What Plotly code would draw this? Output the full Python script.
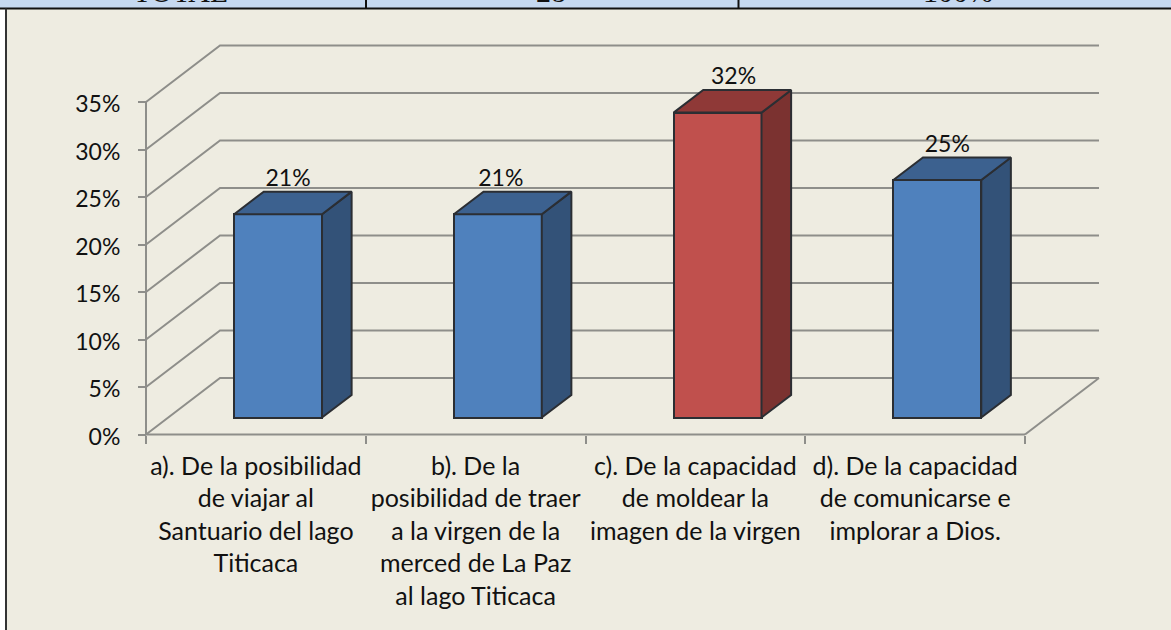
import plotly.graph_objects as go

# --------------------------------------------
# Data
# --------------------------------------------

categories = [
    "a). De la posibilidad<br>de viajar al<br>Santuario del lago<br>Titicaca",
    "b). De la<br>posibilidad de traer<br>a la virgen de la<br>merced de La Paz<br>al lago Titicaca",
    "c). De la capacidad<br>de moldear la<br>imagen de la virgen",
    "d). De la capacidad<br>de comunicarse e<br>implorar a Dios.",
]
values = [21.4, 21.4, 32.1, 25.0]
value_labels = ["21%", "21%", "32%", "25%"]
y_ticks = [0, 5, 10, 15, 20, 25, 30, 35]
y_tick_labels = ["0%", "5%", "10%", "15%", "20%", "25%", "30%", "35%"]
bar_colors = ["#4F81BD", "#4F81BD", "#C0504D", "#4F81BD"]
side_colors = ["#335278", "#335278", "#7B3230", "#335278"]
top_colors = ["#3C618F", "#3C618F", "#8F3937", "#3C618F"]
label_nudge = [0, -7, 6, 0]
table_cells = ["TOTAL", "28", "100%"]

# --------------------------------------------
# Look of the chart
# --------------------------------------------

WIDTH, HEIGHT = 1171, 630
LEFT, RIGHT, TOP, BOTTOM = 146, 1025, 102, 434.5
BG = "#EEECE1"
GRID = "#8E8E8A"
EDGE = "#2B2E33"
FONT = "Lato"
INK = "#111111"

# depth of the fake 3D floor, in axis units
PX_PER_CAT = (RIGHT - LEFT) / 4
PX_PER_PCT = (BOTTOM - TOP) / 35
DEPTH_X = 74 / PX_PER_CAT
DEPTH_Y = 56.5 / PX_PER_PCT
BAR_WIDTH = 0.4
NEAR, FAR = 0.3, 0.7  # where bars sit between front and back wall

# the plot area is larger than the axes so the walls are not clipped
PLOT_X0, PLOT_X1 = 140, WIDTH
PLOT_Y0, PLOT_Y1 = 20, 441
X_RANGE = [(PLOT_X0 - LEFT) / PX_PER_CAT, (PLOT_X1 - LEFT) / PX_PER_CAT]
Y_RANGE = [(BOTTOM - PLOT_Y1) / PX_PER_PCT, (BOTTOM - PLOT_Y0) / PX_PER_PCT]

fig = go.Figure()


def wall_line(xs, ys):
    fig.add_trace(go.Scatter(
        x=xs, y=ys, mode="lines",
        line=dict(color=GRID, width=2),
        hoverinfo="skip", showlegend=False,
    ))


def polygon(xs, ys, fill):
    fig.add_trace(go.Scatter(
        x=xs, y=ys, xaxis="x2", mode="lines",
        fill="toself", fillcolor=fill,
        line=dict(color=EDGE, width=2),
        hoverinfo="skip", showlegend=False,
    ))


# Gridlines: slanted part on the side wall, flat part on the back wall
for tick in y_ticks:
    wall_line([0, DEPTH_X, 4 + DEPTH_X], [tick, tick + DEPTH_Y, tick + DEPTH_Y])

# Axis lines and right edge of the floor
wall_line([0, 0], [0, 35])
wall_line([0, 4], [0, 0])
wall_line([4, 4 + DEPTH_X], [0, DEPTH_Y])

# Bars live on an overlaid x axis so they stay above the gridlines
centers = [i + 0.5 + NEAR * DEPTH_X for i in range(len(values))]
base = NEAR * DEPTH_Y

fig.add_trace(go.Bar(
    x=centers, y=values, base=base, width=BAR_WIDTH, xaxis="x2",
    marker=dict(color=bar_colors, line=dict(color=EDGE, width=2)),
    hoverinfo="skip", showlegend=False,
))

dx = (FAR - NEAR) * DEPTH_X
dy = (FAR - NEAR) * DEPTH_Y
for c, v, side, top in zip(centers, values, side_colors, top_colors):
    x0, x1 = c - BAR_WIDTH / 2, c + BAR_WIDTH / 2
    y0, y1 = base, base + v
    polygon([x1, x1 + dx, x1 + dx, x1, x1], [y0, y0 + dy, y1 + dy, y1, y0], side)
    polygon([x0, x0 + dx, x1 + dx, x1, x0], [y1, y1 + dy, y1 + dy, y1, y1], top)

# Value labels above the bars
fig.add_trace(go.Scatter(
    x=[c + (10 + n) / PX_PER_CAT for c, n in zip(centers, label_nudge)],
    y=[base + v + dy for v in values],
    text=value_labels, xaxis="x2",
    mode="text", textposition="top center",
    textfont=dict(family=FONT, size=23, color=INK),
    hoverinfo="skip", showlegend=False,
))

# --------------------------------------------
# Layout
# --------------------------------------------

fig.update_layout(
    width=WIDTH, height=HEIGHT,
    autosize=False,
    margin=dict(l=0, r=0, t=0, b=0, pad=0),
    paper_bgcolor="white",
    plot_bgcolor="rgba(0,0,0,0)",
    font=dict(family=FONT, size=23, color=INK),
    showlegend=False,
    bargap=0,
    xaxis=dict(
        automargin=False,
        domain=[PLOT_X0 / WIDTH, PLOT_X1 / WIDTH],
        range=X_RANGE,
        anchor="free",
        position=1 - BOTTOM / HEIGHT,
        tickmode="array",
        tickvals=[0.5, 1.5, 2.5, 3.5],
        ticktext=categories,
        ticks="outside", ticklen=9, tickcolor="rgba(0,0,0,0)",
        tickangle=0,
        showgrid=False,
        zeroline=False,
        showline=False,
        minor=dict(
            tickmode="array", tickvals=[0, 1, 2, 3, 4],
            ticks="outside", ticklen=8, tickwidth=2, tickcolor=GRID,
            showgrid=False,
        ),
        tickfont=dict(family=FONT, size=25, color=INK),
    ),
    xaxis2=dict(
        automargin=False,
        domain=[PLOT_X0 / WIDTH, PLOT_X1 / WIDTH],
        range=X_RANGE,
        overlaying="x",
        visible=False,
    ),
    yaxis=dict(
        automargin=False,
        domain=[1 - PLOT_Y1 / HEIGHT, 1 - PLOT_Y0 / HEIGHT],
        range=Y_RANGE,
        anchor="free",
        position=LEFT / WIDTH,
        tickmode="array",
        tickvals=y_ticks,
        ticktext=y_tick_labels,
        ticks="outside", ticklen=8, tickwidth=2, tickcolor=GRID,
        ticklabelstandoff=13,
        ticklabelshift=2,
        showgrid=False,
        zeroline=False,
        showline=False,
        tickfont=dict(family=FONT, size=23, color=INK),
    ),
    shapes=[
        # chart background and the table row cut off at the top
        dict(type="rect", xref="paper", yref="paper", layer="below",
             x0=7 / WIDTH, x1=1, y0=0, y1=1 - 9 / HEIGHT,
             fillcolor=BG, line_width=0),
        dict(type="rect", xref="paper", yref="paper", layer="below",
             x0=0, x1=1, y0=1 - 8 / HEIGHT, y1=1,
             fillcolor="#C6D9F1", line_width=0),
        dict(type="line", xref="paper", yref="paper",
             x0=0, x1=1, y0=1 - 8.5 / HEIGHT, y1=1 - 8.5 / HEIGHT,
             line=dict(color=INK, width=2)),
        dict(type="line", xref="paper", yref="paper",
             x0=6 / WIDTH, x1=6 / WIDTH, y0=0, y1=1 - 8.5 / HEIGHT,
             line=dict(color="#333333", width=2)),
        dict(type="line", xref="paper", yref="paper",
             x0=366 / WIDTH, x1=366 / WIDTH, y0=1 - 8.5 / HEIGHT, y1=1,
             line=dict(color=INK, width=2)),
        dict(type="line", xref="paper", yref="paper",
             x0=738.5 / WIDTH, x1=738.5 / WIDTH, y0=1 - 8.5 / HEIGHT, y1=1,
             line=dict(color=INK, width=2)),
    ],
    annotations=[
        dict(text=cell, xref="paper", yref="paper", showarrow=False,
             x=cx / WIDTH, y=1 - 10 / HEIGHT, xanchor="center", yanchor="bottom",
             font=dict(family="Liberation Serif", size=30, color=INK))
        for cell, cx in zip(table_cells, [180, 551, 958])
    ],
)

fig.write_html(
    "out.html",
    config={"displayModeBar": False},
    post_script="document.documentElement.style.margin='0';document.body.style.margin='0';document.body.style.overflow='hidden';",
)
